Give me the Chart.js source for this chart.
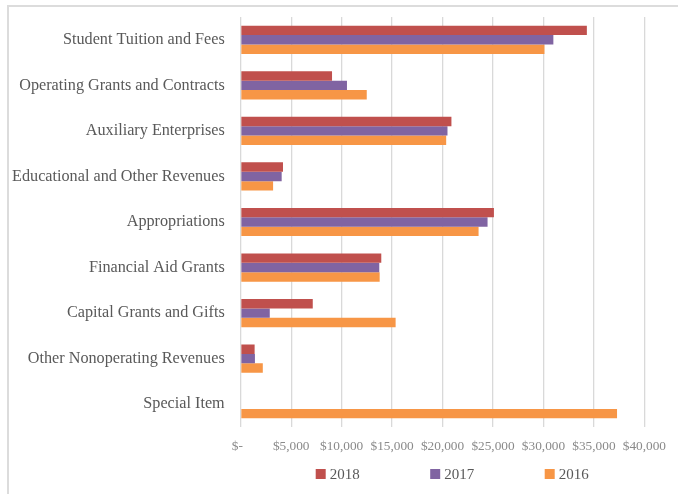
<!DOCTYPE html>
<html>
<head>
<meta charset="utf-8">
<script src="https://cdn.jsdelivr.net/npm/chart.js@4/dist/chart.umd.min.js"></script>
<style>
  html, body { margin: 0; padding: 0; background: #ffffff; overflow: hidden; width: 678px; height: 494px; }
  #frame { position: absolute; left: 7px; top: 5px; width: 800px; height: 800px; border: 2px solid #dcdcdc; box-sizing: border-box; }
  #c { position: absolute; left: 0; top: 0; }
</style>
</head>
<body>
<div id="frame"></div>
<canvas id="c" width="678" height="494"></canvas>
<script>
const categories = [
  'Student Tuition and Fees',
  'Operating Grants and Contracts',
  'Auxiliary Enterprises',
  'Educational and Other Revenues',
  'Appropriations',
  'Financial Aid Grants',
  'Capital Grants and Gifts',
  'Other Nonoperating Revenues',
  'Special Item'
];
const seriesNames = ['2018', '2017', '2016'];
const values2018 = [34300, 9050, 20880, 4190, 25090, 13930, 7140, 1380, 0];
const values2017 = [30980, 10530, 20490, 4060, 24460, 13730, 2880, 1410, 0];
const values2016 = [30100, 12490, 20360, 3210, 23570, 13770, 15350, 2190, 37290];
const xTickLabels = ['$-  ', '$5,000', '$10,000', '$15,000', '$20,000', '$25,000', '$30,000', '$35,000', '$40,000'];
const seriesColors = ['#C0504D', '#8064A2', '#F79646'];

const FONT = '"Liberation Serif", "Times New Roman", serif';

const customLegend = {
  id: 'customLegend',
  afterDraw(chart) {
    const ctx = chart.ctx;
    const ca = chart.chartArea;
    ctx.save();
    ctx.font = '15px ' + FONT;
    ctx.textBaseline = 'middle';
    ctx.textAlign = 'left';
    const y = 474;
    const x0 = ca.left + 75;
    const step = 114.5;
    chart.data.datasets.forEach((ds, i) => {
      const x = x0 + i * step;
      ctx.fillStyle = ds.backgroundColor;
      ctx.fillRect(x, y - 5, 10, 10);
      ctx.fillStyle = '#595959';
      ctx.fillText(ds.label, x + 14, y + 1);
    });
    ctx.restore();
  }
};

const seriesValues = [values2018, values2017, values2016];

const chart = new Chart(document.getElementById('c'), {
  type: 'bar',
  data: {
    labels: categories,
    datasets: seriesNames.map((name, i) => ({
      label: name,
      data: seriesValues[i],
      backgroundColor: seriesColors[i],
      borderWidth: 0,
      categoryPercentage: 0.62,
      barPercentage: 1.0
    }))
  },
  options: {
    indexAxis: 'y',
    responsive: false,
    animation: false,
    layout: { padding: { top: 17, right: 31, bottom: 37, left: 0 } },
    plugins: {
      legend: { display: false },
      tooltip: { enabled: false }
    },
    scales: {
      x: {
        min: 0,
        max: 40000,
        ticks: {
          stepSize: 5000,
          padding: 12,
          color: '#8a8a8a',
          font: { family: FONT, size: 13.3 },
          maxRotation: 0,
          callback: (v, i) => xTickLabels[i]
        },
        grid: { color: '#d9d9d9', lineWidth: 1.3, drawTicks: false },
        border: { display: false },
        afterFit: (s) => { s.height = 30; }
      },
      y: {
        ticks: {
          padding: 16,
          color: '#595959',
          font: { family: FONT, size: 16.2 }
        },
        grid: { display: false, drawTicks: false },
        border: { display: false },
        afterFit: (s) => { s.width = 240.7; s.paddingTop = 0; s.paddingBottom = 0; }
      }
    }
  },
  plugins: [customLegend]
});
</script>
</body>
</html>
